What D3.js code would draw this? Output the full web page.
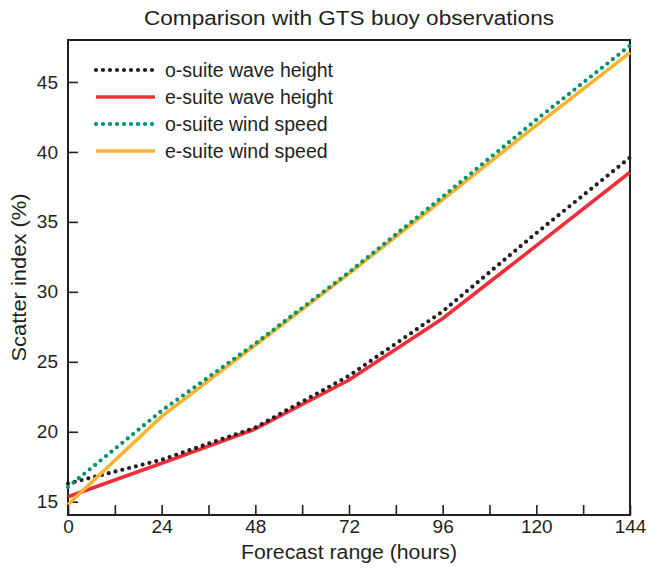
<!DOCTYPE html>
<html>
<head>
<meta charset="utf-8">
<script src="https://cdn.jsdelivr.net/npm/d3@7"></script>
<style>
  body { margin: 0; background: #fff; }
  text { font-family: "Liberation Sans", Arial, sans-serif; fill: #231f20; }
</style>
</head>
<body>
<div id="chart"></div>
<script>
// forecast range (hours) and scatter index (%)
const hours = [0, 24, 48, 72, 96, 120, 144]
const oWave = [16.3, 18.0, 20.3, 24.0, 28.6, 34.2, 39.6]
const eWave = [15.35, 17.75, 20.2, 23.7, 28.1, 33.3, 38.55]
const oWind = [16.05, 21.5, 26.3, 31.4, 36.8, 42.3, 47.6]
const eWind = [14.8, 21.1, 26.2, 31.3, 36.6, 41.9, 47.1]

const xTicks = [0, 24, 48, 72, 96, 120, 144]
const xMinor = d3.range(0, 145, 12)
const yTicks = [15, 20, 25, 30, 35, 40, 45]

const seriesNames = ["o-suite wave height", "e-suite wave height", "o-suite wind speed", "e-suite wind speed"]
const seriesColors = ["#231f20", "#ed2f39", "#00916d", "#f8b330"]
const seriesDotted = [true, false, true, false]

let width = 649
let height = 568
let margin = {top: 40, right: 19, bottom: 53, left: 68}

const svg = d3.select("#chart").append("svg")
  .attr("width", width)
  .attr("height", height)

const x = d3.scaleLinear()
  .domain([0, 144])
  .range([margin.left, width - margin.right])

const y = d3.scaleLinear()
  .domain([14.05, 48])
  .range([height - margin.bottom, margin.top])

// title
svg.append("text")
  .attr("x", (x(0) + x(144)) / 2)
  .attr("y", 25)
  .attr("text-anchor", "middle")
  .attr("textLength", 410)
  .attr("lengthAdjust", "spacingAndGlyphs")
  .style("font-size", "20px")
  .text("Comparison with GTS buoy observations")

// ticks point inward
const xAxis = svg.append("g")
  .attr("transform", `translate(0,${y.range()[0]})`)
  .call(d3.axisBottom(x).tickValues(xMinor).tickSize(-10).tickFormat(d => xTicks.includes(d) ? d : ""))
xAxis.selectAll("text").attr("y", 5).attr("dy", "0.71em").style("font-size", "19px")

const yAxis = svg.append("g")
  .attr("transform", `translate(${margin.left},0)`)
  .call(d3.axisLeft(y).tickValues(yTicks).tickSize(-10))
yAxis.selectAll("text").attr("x", -10).style("font-size", "19px")

svg.selectAll(".tick line").attr("stroke", "#231f20").attr("stroke-width", 1.6)
svg.selectAll(".domain").remove()

// frame
svg.append("rect")
  .attr("x", x(0))
  .attr("y", y(48))
  .attr("width", x(144) - x(0))
  .attr("height", y(14.05) - y(48))
  .attr("fill", "none")
  .attr("stroke", "#231f20")
  .attr("stroke-width", 2)

svg.append("text")
  .attr("x", (x(0) + x(144)) / 2)
  .attr("y", 559)
  .attr("text-anchor", "middle")
  .attr("textLength", 216)
  .attr("lengthAdjust", "spacingAndGlyphs")
  .style("font-size", "20px")
  .text("Forecast range (hours)")

svg.append("text")
  .attr("transform", `translate(26,${(y(14.05) + y(48)) / 2}) rotate(-90)`)
  .attr("text-anchor", "middle")
  .attr("textLength", 168)
  .attr("lengthAdjust", "spacingAndGlyphs")
  .style("font-size", "20px")
  .text("Scatter index (%)")

const allValues = [oWave, eWave, oWind, eWind]

const line = d3.line()
  .x(d => x(d[0]))
  .y(d => y(d[1]))

const plot = svg.append("g")
// draw order: solid lines under the dotted ones
const order = [1, 0, 3, 2]
order.forEach(i => {
  const pts = hours.map((h, k) => [h, allValues[i][k]])
  plot.append("path")
    .datum(pts)
    .attr("fill", "none")
    .attr("stroke", seriesColors[i])
    .attr("stroke-width", seriesDotted[i] ? 4.2 : 3.6)
    .attr("stroke-linecap", seriesDotted[i] ? "round" : "butt")
    .attr("stroke-dasharray", seriesDotted[i] ? "0 7" : null)
    .attr("d", line)
})

// legend
const legend = svg.append("g")
seriesNames.forEach((name, i) => {
  const ly = 70 + i * 27
  legend.append("line")
    .attr("x1", 96).attr("x2", 155)
    .attr("y1", ly).attr("y2", ly)
    .attr("stroke", seriesColors[i])
    .attr("stroke-width", seriesDotted[i] ? 4.2 : 3.6)
    .attr("stroke-linecap", seriesDotted[i] ? "round" : "butt")
    .attr("stroke-dasharray", seriesDotted[i] ? "0 7" : null)
  legend.append("text")
    .attr("x", 165)
    .attr("y", ly)
    .attr("dy", "0.35em")
    .style("font-size", "19.5px")
    .text(name)
})
</script>
</body>
</html>
